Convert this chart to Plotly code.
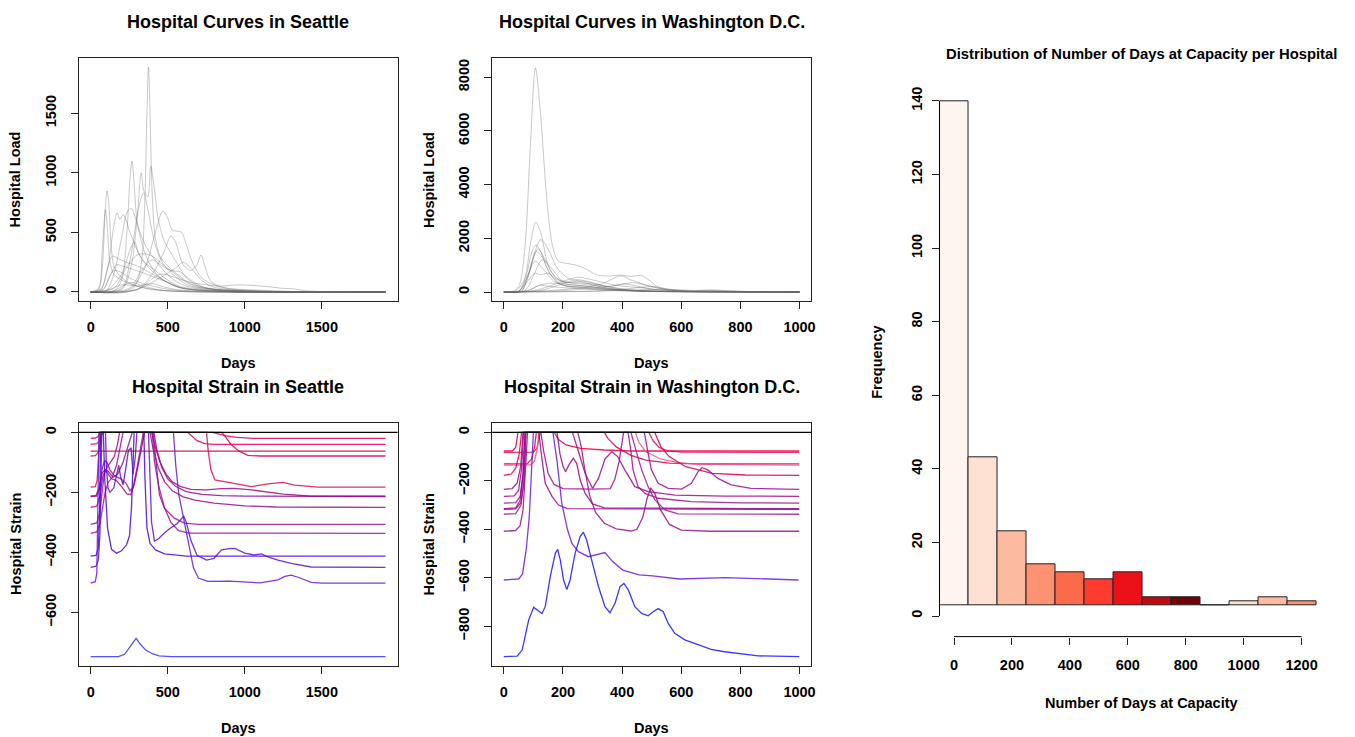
import plotly.graph_objects as go

FONT = "Liberation Sans"

# ---------------- Seattle hospital load curves (day, load) ----------------
SEA_LOAD_01 = [(0,0),(250,5),(300,80),(330,250),(350,700),(365,1500),(375,1888),(385,1500),(400,800),(420,450),(450,300),(500,220),(560,150),(650,70),(800,25),(1000,8),(1913,0)]
SEA_LOAD_02 = [(0,0),(150,10),(200,100),(235,500),(255,950),(268,1100),(280,950),(300,600),(330,420),(360,300),(400,200),(450,120),(550,50),(700,15),(1913,0)]
SEA_LOAD_03 = [(0,0),(200,20),(260,200),(300,600),(328,1000),(345,850),(370,800),(390,1055),(410,900),(440,600),(480,420),(520,330),(570,220),(620,120),(700,50),(850,15),(1913,0)]
SEA_LOAD_04 = [(0,0),(50,20),(75,200),(95,700),(107,848),(120,700),(135,350),(155,200),(180,150),(220,100),(300,50),(400,20),(600,5),(1913,0)]
SEA_LOAD_05 = [(0,0),(50,30),(75,350),(96,690),(110,500),(125,250),(150,150),(200,100),(300,50),(500,10),(1913,0)]
SEA_LOAD_06 = [(0,0),(60,10),(110,200),(150,550),(172,665),(190,610),(210,650),(230,600),(255,500),(280,420),(320,300),(380,200),(450,120),(550,50),(700,15),(1913,0)]
SEA_LOAD_07 = [(0,0),(100,10),(150,150),(200,450),(240,680),(265,700),(290,620),(320,500),(360,380),(400,300),(460,200),(520,120),(600,60),(750,20),(1913,0)]
SEA_LOAD_08 = [(0,0),(200,30),(260,300),(310,700),(343,830),(370,700),(400,500),(430,350),(480,220),(560,120),(650,50),(1913,0)]
SEA_LOAD_09 = [(0,0),(250,20),(350,200),(420,500),(468,680),(500,620),(530,520),(560,510),(590,500),(620,400),(660,250),(720,120),(800,60),(900,30),(1100,15),(1300,5),(1913,0)]
SEA_LOAD_10 = [(0,0),(300,20),(400,150),(480,350),(520,470),(550,420),(600,230),(650,180),(690,230),(716,311),(740,220),(780,90),(850,40),(1000,15),(1913,0)]
SEA_LOAD_11 = [(0,0),(300,20),(450,150),(550,120),(650,80),(750,60),(850,50),(950,60),(1050,55),(1150,45),(1250,30),(1310,28),(1400,10),(1913,0)]
SEA_LOAD_12 = [(0,0),(100,10),(200,150),(260,370),(285,420),(310,330),(350,250),(420,180),(500,100),(600,40),(1913,0)]
SEA_LOAD_13 = [(0,0),(70,30),(110,200),(140,300),(180,280),(230,250),(280,230),(330,200),(400,150),(500,80),(600,30),(1913,0)]
SEA_LOAD_14 = [(0,0),(150,30),(230,200),(300,310),(350,320),(400,300),(450,250),(520,180),(600,100),(700,40),(1913,0)]
SEA_LOAD_15 = [(0,0),(80,20),(130,150),(170,230),(200,220),(250,200),(320,170),(400,130),(500,80),(600,30),(1913,0)]
SEA_LOAD_16 = [(0,0),(80,20),(120,120),(150,180),(190,170),(250,120),(320,80),(400,50),(550,15),(1913,0)]
SEA_LOAD_17 = [(0,0),(250,30),(330,180),(400,270),(450,230),(520,180),(580,170),(620,130),(700,60),(800,20),(1913,0)]
SEA_LOAD_18 = [(0,0),(150,10),(220,60),(270,80),(320,60),(400,30),(500,10),(1913,0)]
SEA_LOAD_19 = [(0,0),(300,20),(450,120),(550,200),(600,250),(650,200),(720,100),(800,40),(1913,0)]
SEA_LOAD_20 = [(0,0),(120,20),(200,60),(300,50),(400,70),(480,40),(600,15),(1913,0)]

# ---------------- Washington D.C. hospital load curves ----------------
DC_LOAD_01 = [(0,0),(30,30),(50,200),(70,1500),(90,5500),(107,8350),(125,6500),(145,3500),(165,1700),(185,1150),(216,1060),(245,1000),(270,900),(317,630),(360,600),(398,630),(430,580),(463,620),(490,450),(520,200),(560,80),(650,40),(700,50),(800,20),(1000,0)]
DC_LOAD_02 = [(0,0),(40,30),(70,500),(90,1800),(108,2600),(125,2200),(150,1000),(180,500),(220,350),(260,300),(300,250),(350,150),(400,80),(500,30),(1000,0)]
DC_LOAD_03 = [(0,0),(50,30),(80,500),(105,1500),(125,1950),(150,1600),(180,900),(220,500),(260,450),(300,350),(350,200),(420,80),(500,30),(1000,0)]
DC_LOAD_04 = [(0,0),(50,30),(75,600),(95,1500),(108,1750),(125,1500),(150,800),(190,300),(240,200),(300,150),(400,60),(1000,0)]
DC_LOAD_05 = [(0,0),(60,40),(85,700),(115,1600),(140,1200),(170,600),(210,350),(250,400),(290,300),(350,150),(450,50),(1000,0)]
DC_LOAD_06 = [(0,0),(60,40),(80,600),(110,1500),(130,1300),(160,600),(200,250),(250,200),(320,120),(420,50),(1000,0)]
DC_LOAD_07 = [(0,0),(70,40),(100,600),(130,1200),(160,900),(200,400),(250,350),(300,300),(360,200),(400,300),(440,250),(480,150),(550,60),(1000,0)]
DC_LOAD_08 = [(0,0),(50,30),(80,600),(105,1150),(130,900),(170,400),(220,200),(300,100),(400,40),(1000,0)]
DC_LOAD_09 = [(0,0),(50,20),(80,400),(105,700),(125,650),(150,700),(175,500),(210,300),(250,250),(300,200),(350,120),(450,40),(1000,0)]
DC_LOAD_10 = [(0,0),(100,50),(150,200),(200,400),(250,550),(280,500),(320,400),(380,250),(420,200),(470,150),(520,80),(600,30),(1000,0)]
DC_LOAD_11 = [(0,0),(150,50),(250,150),(330,300),(396,600),(430,450),(470,300),(520,150),(580,50),(700,20),(1000,0)]
DC_LOAD_12 = [(0,0),(80,50),(120,250),(160,200),(220,150),(300,100),(400,60),(500,20),(1000,0)]
DC_LOAD_13 = [(0,0),(200,50),(300,150),(380,250),(440,350),(480,250),(520,150),(580,50),(1000,0)]
DC_LOAD_14 = [(0,0),(300,30),(400,100),(470,180),(510,200),(550,120),(620,40),(700,60),(750,30),(1000,0)]
DC_LOAD_15 = [(0,0),(80,50),(120,250),(160,330),(200,300),(250,250),(300,180),(350,120),(420,60),(500,20),(1000,0)]
DC_LOAD_16 = [(0,0),(120,50),(170,200),(230,420),(280,380),(330,250),(380,150),(450,60),(1000,0)]
DC_LOAD_17 = [(0,0),(300,30),(450,80),(550,100),(650,60),(700,80),(800,30),(1000,0)]

# ---------------- Seattle hospital strain (day, strain) ----------------
SEA_STRAIN_020 = [(0,-20),(30,-19),(48,-14),(58,-4),(62,0),(790,0),(830,-6),(880,-12),(950,-17),(1050,-20),(1913,-20)]
SEA_STRAIN_040 = [(0,-40),(40,-38),(60,-28),(72,-8),(78,0),(630,0),(655,-12),(690,-28),(740,-38),(800,-40),(1913,-40)]
SEA_STRAIN_063 = [(0,-63),(1913,-63)]
SEA_STRAIN_079 = [(0,-79),(30,-78),(50,-66),(62,-35),(70,0),(850,0),(875,-15),(910,-40),(960,-62),(1020,-77),(1100,-79),(1913,-79)]
SEA_STRAIN_183 = [(0,-183),(30,-181),(42,-160),(52,-80),(57,0),(752,0),(762,-60),(780,-125),(806,-159),(870,-165),(935,-170),(1043,-181),(1151,-172),(1248,-167),(1323,-176),(1474,-183),(1913,-183)]
SEA_STRAIN_213A = [(0,-213),(35,-210),(55,-185),(75,-135),(95,-125),(115,-140),(135,-155),(165,-160),(200,-180),(235,-205),(260,-208),(285,-170),(310,-100),(335,-30),(350,0),(395,0),(420,-50),(450,-100),(490,-140),(530,-165),(580,-180),(650,-190),(750,-192),(850,-188),(935,-187),(1043,-192),(1150,-200),(1250,-206),(1431,-213),(1913,-213)]
SEA_STRAIN_213B = [(0,-214),(40,-213),(58,-185),(75,-120),(90,-95),(105,-100),(125,-125),(155,-145),(195,-155),(230,-170),(255,-195),(275,-185),(300,-120),(325,-50),(342,0),(410,0),(430,-60),(460,-115),(500,-155),(550,-180),(620,-198),(720,-207),(850,-211),(1000,-213),(1913,-214)]
SEA_STRAIN_250 = [(0,-250),(40,-246),(58,-215),(78,-150),(95,-125),(115,-130),(145,-150),(175,-140),(210,-100),(245,-45),(270,0),(385,0),(405,-55),(440,-120),(480,-165),(530,-195),(600,-215),(676,-226),(800,-236),(1000,-245),(1200,-249),(1913,-250)]
SEA_STRAIN_307 = [(0,-307),(40,-302),(58,-270),(72,-200),(88,-140),(108,-115),(130,-98),(152,-82),(172,-45),(188,0),(405,0),(420,-80),(435,-160),(446,-208),(478,-253),(543,-286),(608,-303),(700,-307),(1913,-307)]
SEA_STRAIN_337 = [(0,-337),(40,-332),(60,-305),(75,-250),(92,-205),(112,-168),(140,-150),(168,-110),(195,-40),(210,0),(400,0),(414,-98),(440,-175),(478,-250),(520,-300),(570,-328),(640,-336),(1913,-337)]
SEA_STRAIN_413 = [(0,-413),(35,-410),(50,-385),(58,-260),(63,-70),(66,0),(82,0),(92,-160),(110,-320),(135,-390),(168,-403),(200,-395),(233,-375),(252,-345),(265,-250),(276,-70),(282,0),(345,0),(352,-150),(365,-318),(385,-370),(420,-392),(480,-405),(620,-413),(1913,-413)]
SEA_STRAIN_450 = [(0,-450),(35,-446),(50,-425),(60,-340),(67,-150),(72,0),(96,0),(102,-110),(112,-185),(125,-200),(150,-185),(170,-130),(182,-110),(195,-150),(210,-175),(225,-130),(245,-60),(262,-52),(275,-140),(290,-80),(300,0),(375,0),(385,-150),(395,-300),(414,-363),(440,-355),(480,-335),(520,-318),(560,-305),(604,-280),(620,-300),(650,-360),(690,-410),(752,-426),(800,-420),(849,-392),(900,-388),(935,-387),(1000,-403),(1060,-409),(1108,-405),(1150,-415),(1215,-426),(1301,-437),(1431,-449),(1913,-450)]
SEA_STRAIN_503 = [(0,-503),(30,-498),(40,-470),(46,-300),(51,-100),(54,0),(537,0),(552,-110),(572,-208),(615,-319),(646,-397),(667,-452),(699,-486),(760,-497),(900,-496),(1000,-500),(1100,-502),(1215,-492),(1260,-480),(1301,-476),(1350,-484),(1431,-500),(1500,-503),(1913,-503)]
SEA_STRAIN_748 = [(0,-748),(180,-748),(220,-740),(260,-712),(295,-687),(320,-705),(357,-726),(400,-738),(443,-745),(520,-748),(1913,-748)]

SEA_STRAIN_COLORS = ["#E8004E", "#E4004E", "#C00040", "#E0004C", "#E20E50", "#A30C85", "#960C92",
                     "#A00E8E", "#A3109A", "#A2109E", "#4C08D8", "#5C12D2", "#6A1AD2", "#3333FF"]

# ---------------- Washington D.C. hospital strain ----------------
DC_STRAIN_077 = [(0,-77),(28,-77),(40,-62),(46,-20),(48,0),(170,0),(185,-30),(210,-52),(260,-66),(340,-73),(430,-77),(999,-77)]
DC_STRAIN_083 = [(0,-83),(100,-82),(112,-65),(120,-20),(123,0),(490,0),(505,-35),(525,-62),(555,-77),(600,-82),(999,-83)]
DC_STRAIN_130 = [(0,-130),(80,-129),(94,-110),(104,-60),(110,0),(340,0),(352,-25),(380,-60),(430,-95),(480,-115),(560,-127),(650,-130),(999,-130)]
DC_STRAIN_135 = [(0,-135),(90,-134),(104,-118),(114,-60),(119,0),(445,0),(456,-40),(480,-80),(530,-110),(590,-125),(660,-132),(999,-135)]
DC_STRAIN_178 = [(0,-178),(25,-172),(40,-148),(52,-90),(60,0),(510,0),(531,-59),(559,-100),(615,-142),(705,-169),(817,-176),(999,-178)]
DC_STRAIN_235 = [(0,-235),(28,-232),(45,-210),(57,-140),(65,0),(125,0),(135,-80),(150,-170),(170,-215),(200,-232),(300,-234),(360,-232),(375,-195),(390,-120),(405,0),(475,0),(488,-87),(499,-155),(522,-210),(556,-231),(601,-234),(634,-210),(657,-162),(670,-146),(690,-155),(724,-190),(769,-217),(836,-231),(999,-235)]
DC_STRAIN_264 = [(0,-264),(35,-262),(50,-240),(60,-150),(67,0),(232,0),(250,-70),(275,-170),(300,-231),(320,-190),(342,-110),(365,-80),(385,-100),(409,-155),(443,-224),(488,-245),(579,-259),(746,-263),(999,-264)]
DC_STRAIN_292 = [(0,-292),(40,-290),(55,-265),(65,-170),(72,0),(420,0),(430,-80),(437,-155),(454,-224),(477,-252),(522,-272),(634,-286),(800,-291),(999,-292)]
DC_STRAIN_315 = [(0,-315),(40,-312),(55,-280),(65,-180),(72,0),(180,0),(190,-90),(200,-140),(209,-162),(222,-130),(235,-107),(247,-130),(258,-197),(275,-252),(300,-295),(340,-312),(999,-315)]
DC_STRAIN_318 = [(0,-318),(40,-316),(58,-290),(68,-200),(75,0),(118,0),(129,-110),(140,-210),(163,-264),(185,-300),(215,-315),(999,-318)]
DC_STRAIN_338 = [(0,-338),(40,-335),(58,-300),(68,-200),(74,0),(430,0),(437,-32),(449,-87),(466,-155),(488,-224),(511,-279),(545,-320),(589,-336),(999,-338)]
DC_STRAIN_408 = [(0,-408),(40,-405),(55,-385),(65,-320),(75,-120),(80,0),(250,0),(262,-60),(272,-140),(290,-260),(310,-330),(340,-375),(380,-398),(430,-407),(450,-400),(470,-350),(485,-270),(497,-231),(510,-250),(530,-320),(560,-380),(600,-403),(700,-408),(999,-408)]
DC_STRAIN_609 = [(0,-609),(50,-605),(63,-585),(76,-480),(86,-350),(95,-150),(100,0),(166,0),(180,-120),(196,-293),(215,-400),(230,-458),(252,-492),(286,-513),(342,-496),(368,-533),(402,-568),(458,-588),(503,-592),(593,-605),(750,-599),(997,-609)]
DC_STRAIN_925 = [(0,-925),(45,-923),(62,-898),(84,-774),(101,-722),(112,-733),(129,-747),(140,-719),(157,-595),(174,-499),(182,-483),(191,-527),(202,-609),(213,-648),(224,-609),(241,-499),(258,-430),(269,-412),(280,-444),(297,-527),(320,-636),(342,-719),(359,-744),(376,-705),(393,-636),(406,-623),(421,-650),(443,-719),(466,-747),(488,-757),(505,-740),(522,-727),(539,-740),(556,-788),(578,-829),(612,-856),(657,-877),(701,-895),(746,-905),(803,-913),(860,-922),(999,-925)]

DC_STRAIN_COLORS = ["#E8003C", "#E6104C", "#E4004A", "#EA5A82", "#E0004C", "#A01090", "#A30E8C",
                    "#A01098", "#9A0A8C", "#980A92", "#A4189A", "#9A1090", "#6C1CDA", "#1818FF"]

# ---------------- Histogram of days at capacity ----------------
HIST_CENTERS = [0, 100, 200, 300, 400, 500, 600, 700, 800, 900, 1000, 1100, 1200]
HIST_COUNTS = [140, 43, 23, 14, 12, 10, 12, 5, 5, 3, 4, 5, 4]
HIST_BASE = 3
HIST_COLORS = ["#FFF5F0", "#FEE0D2", "#FCBBA1", "#FC9272", "#FB6A4A", "#FF3B2F", "#EC1119",
               "#C00A12", "#700008", "#FFF5F0", "#FEE0D2", "#FCBBA1", "#FC9272"]

# ---------------- tick labels ----------------
SEA_X_TICKS = [0, 500, 1000, 1500]
SEA_LOAD_Y_TICKS = [0, 500, 1000, 1500]
DC_X_TICKS = [0, 200, 400, 600, 800, 1000]
DC_LOAD_Y_TICKS = [0, 2000, 4000, 6000, 8000]
SEA_STRAIN_Y_TICKS = [0, -200, -400, -600]
DC_STRAIN_Y_TICKS = [0, -200, -400, -600, -800]
HIST_X_TICKS = [0, 200, 400, 600, 800, 1000, 1200]
HIST_Y_TICKS = [0, 20, 40, 60, 80, 100, 120, 140]

SEA_LOAD = [SEA_LOAD_01, SEA_LOAD_02, SEA_LOAD_03, SEA_LOAD_04, SEA_LOAD_05, SEA_LOAD_06, SEA_LOAD_07,
            SEA_LOAD_08, SEA_LOAD_09, SEA_LOAD_10, SEA_LOAD_11, SEA_LOAD_12, SEA_LOAD_13, SEA_LOAD_14,
            SEA_LOAD_15, SEA_LOAD_16, SEA_LOAD_17, SEA_LOAD_18, SEA_LOAD_19, SEA_LOAD_20]
DC_LOAD = [DC_LOAD_01, DC_LOAD_02, DC_LOAD_03, DC_LOAD_04, DC_LOAD_05, DC_LOAD_06, DC_LOAD_07, DC_LOAD_08,
           DC_LOAD_09, DC_LOAD_10, DC_LOAD_11, DC_LOAD_12, DC_LOAD_13, DC_LOAD_14, DC_LOAD_15, DC_LOAD_16,
           DC_LOAD_17]
SEA_STRAIN = [SEA_STRAIN_020, SEA_STRAIN_040, SEA_STRAIN_063, SEA_STRAIN_079, SEA_STRAIN_183,
              SEA_STRAIN_213A, SEA_STRAIN_213B, SEA_STRAIN_250, SEA_STRAIN_307, SEA_STRAIN_337,
              SEA_STRAIN_413, SEA_STRAIN_450, SEA_STRAIN_503, SEA_STRAIN_748]
DC_STRAIN = [DC_STRAIN_077, DC_STRAIN_083, DC_STRAIN_130, DC_STRAIN_135, DC_STRAIN_178, DC_STRAIN_235,
             DC_STRAIN_264, DC_STRAIN_292, DC_STRAIN_315, DC_STRAIN_318, DC_STRAIN_338, DC_STRAIN_408,
             DC_STRAIN_609, DC_STRAIN_925]

W, H = 1355, 737


def px_x(p):
    return p / W


def px_y(p):
    return 1 - p / H


fig = go.Figure()

# load curves
for curve in SEA_LOAD:
    fig.add_trace(go.Scatter(x=[d for d, _ in curve], y=[v for _, v in curve], mode="lines",
                             line=dict(color="rgba(105,105,105,0.45)", width=0.8, shape="spline", smoothing=0.9),
                             xaxis="x", yaxis="y", showlegend=False, hoverinfo="skip"))
for curve in DC_LOAD:
    fig.add_trace(go.Scatter(x=[d for d, _ in curve], y=[v for _, v in curve], mode="lines",
                             line=dict(color="rgba(105,105,105,0.45)", width=0.8, shape="spline", smoothing=0.9),
                             xaxis="x2", yaxis="y2", showlegend=False, hoverinfo="skip"))

# strain curves
for curve, col in zip(SEA_STRAIN, SEA_STRAIN_COLORS):
    fig.add_trace(go.Scatter(x=[d for d, _ in curve], y=[v for _, v in curve], mode="lines",
                             line=dict(color=col, width=1.3), opacity=0.85,
                             xaxis="x3", yaxis="y3", showlegend=False, hoverinfo="skip"))
for curve, col in zip(DC_STRAIN, DC_STRAIN_COLORS):
    fig.add_trace(go.Scatter(x=[d for d, _ in curve], y=[v for _, v in curve], mode="lines",
                             line=dict(color=col, width=1.3), opacity=0.85,
                             xaxis="x4", yaxis="y4", showlegend=False, hoverinfo="skip"))

# histogram bars
fig.add_trace(go.Bar(x=HIST_CENTERS, y=[c - HIST_BASE for c in HIST_COUNTS], base=HIST_BASE, width=100,
                     marker=dict(color=HIST_COLORS, line=dict(color="#222222", width=1)),
                     xaxis="x5", yaxis="y5", showlegend=False, hoverinfo="skip"))

tickfont = dict(family=FONT, size=14.5, color="black", weight="bold")


def box_axis(domain, rng, ticks, anchor, angle=0, standoff=0):
    return dict(domain=domain, range=rng, tickvals=ticks, anchor=anchor, showline=True, mirror=True,
                linecolor="#222222", linewidth=1, ticks="outside", ticklen=7, tickwidth=1,
                tickcolor="#222222", showgrid=False, zeroline=False, tickfont=tickfont,
                tickangle=angle, ticklabelstandoff=standoff, fixedrange=True)


XD_SEA = [px_x(79), px_x(399)]
XD_DC = [px_x(494), px_x(814)]
YD_TOP = [px_y(301), px_y(58)]
YD_BOT = [px_y(665.7), px_y(423)]

fig.update_layout(
    width=W, height=H, margin=dict(l=0, r=0, t=0, b=0),
    paper_bgcolor="white", plot_bgcolor="white", bargap=0,
    xaxis=box_axis(XD_SEA, [-77.6, 1991], SEA_X_TICKS, "y", 0, 6),
    yaxis=box_axis(YD_TOP, [-75.6, 1964], SEA_LOAD_Y_TICKS, "x", -90, 9),
    xaxis2=box_axis(XD_DC, [-39.4, 1038.7], DC_X_TICKS, "y2", 0, 6),
    yaxis2=box_axis(YD_TOP, [-335, 8718], DC_LOAD_Y_TICKS, "x2", -90, 9),
    xaxis3=box_axis(XD_SEA, [-77.6, 1991], SEA_X_TICKS, "y3", 0, 6),
    yaxis3=box_axis(YD_BOT, [-778, 31], SEA_STRAIN_Y_TICKS, "x3", -90, 9),
    xaxis4=box_axis(XD_DC, [-39.4, 1038.7], DC_X_TICKS, "y4", 0, 6),
    yaxis4=box_axis(YD_BOT, [-962.5, 38.4], DC_STRAIN_Y_TICKS, "x4", -90, 9),
    xaxis5=dict(domain=[px_x(943), px_x(1350)], range=[-50, 1350], tickvals=HIST_X_TICKS, anchor="y5",
                showline=False, ticks="outside", ticklen=7, tickwidth=1, tickcolor="#222222",
                showgrid=False, zeroline=False, tickfont=tickfont, ticklabelstandoff=8, fixedrange=True),
    yaxis5=dict(domain=[px_y(636.6), px_y(80.3)], range=[-5.6, 145.6], tickvals=HIST_Y_TICKS, anchor="x5",
                showline=False, ticks="outside", ticklen=7, tickwidth=1, tickcolor="#222222",
                showgrid=False, zeroline=False, tickfont=tickfont, tickangle=-90, ticklabelstandoff=4,
                fixedrange=True),
)

shapes = []
# zero reference lines in strain panels
for xr, yr in (("x3", "y3"), ("x4", "y4")):
    shapes.append(dict(type="line", xref=xr + " domain", x0=0, x1=1, yref=yr, y0=0, y1=0,
                       line=dict(color="black", width=1.2)))
# histogram axis lines (span of ticks only)
shapes.append(dict(type="line", xref="x5 domain", x0=0, x1=0, yref="y5", y0=HIST_Y_TICKS[0], y1=HIST_Y_TICKS[-1],
                   line=dict(color="black", width=1)))
shapes.append(dict(type="line", xref="x5", x0=HIST_X_TICKS[0], x1=HIST_X_TICKS[-1], yref="y5 domain", y0=0, y1=0,
                   line=dict(color="black", width=1)))
fig.update_layout(shapes=shapes)

ann = []


def text(x, y, s, size=14.5, angle=0):
    ann.append(dict(x=px_x(x), y=px_y(y), xref="paper", yref="paper", text=s, showarrow=False,
                    textangle=angle, xanchor="center", yanchor="middle",
                    font=dict(family=FONT, size=size, color="black", weight="bold")))


text(239, 22, "Hospital Curves in Seattle", 18)
text(654, 22, "Hospital Curves in Washington D.C.", 18)
text(239, 387, "Hospital Strain in Seattle", 18)
text(654, 387, "Hospital Strain in Washington D.C.", 18)
text(1146, 54, "Distribution of Number of Days at Capacity per Hospital", 14.8)
text(239, 363, "Days")
text(654, 363, "Days")
text(239, 728, "Days")
text(654, 728, "Days")
text(16, 179.5, "Hospital Load", angle=-90)
text(431, 179.5, "Hospital Load", angle=-90)
text(16, 544, "Hospital Strain", angle=-90)
text(431, 544, "Hospital Strain", angle=-90)
text(880, 362, "Frequency", angle=-90)
text(1146, 703, "Number of Days at Capacity")
fig.update_layout(annotations=ann)

fig.write_html("out.html", config={"displayModeBar": False},
               post_script="document.body.style.margin='0';document.body.style.overflow='hidden';")
